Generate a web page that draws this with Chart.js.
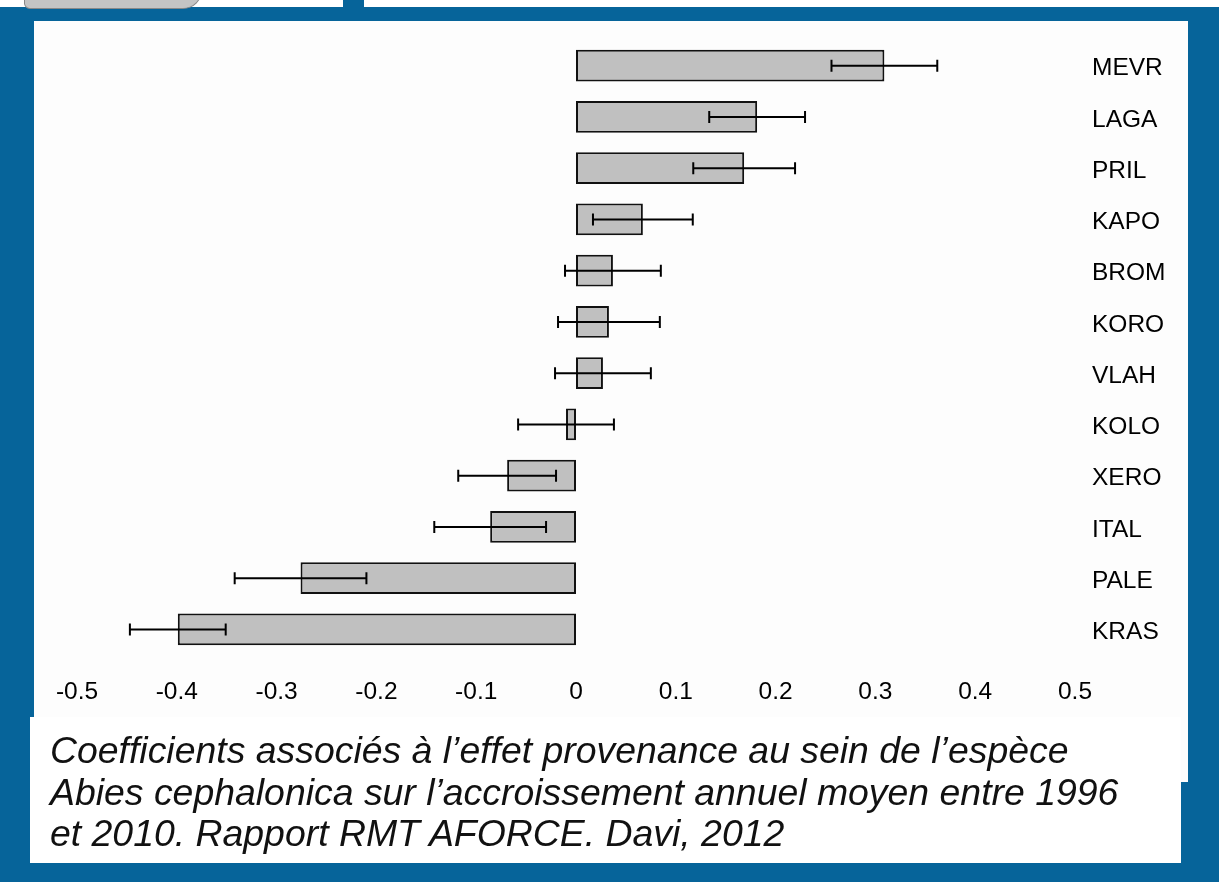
<!DOCTYPE html>
<html>
<head>
<meta charset="utf-8">
<script src="https://cdn.jsdelivr.net/npm/chart.js@4.4.1/dist/chart.umd.min.js"></script>
<style>
  html, body { margin: 0; padding: 0; }
  body { width: 1219px; height: 882px; position: relative; overflow: hidden; background: #ffffff; font-family: "Liberation Sans", Arial, sans-serif; }
  #frame { position: absolute; left: 0; top: 7px; width: 1219px; height: 875px; background: #06649a; }
  #blob { position: absolute; left: 24px; top: -10px; width: 176px; height: 17px; background: #c4c4c4; border: 1px solid #888; border-radius: 0 0 40px 12px; }
  #tab { position: absolute; left: 343px; top: 0; width: 21px; height: 8px; background: #06649a; }
  #panel { position: absolute; left: 34px; top: 21px; width: 1154px; height: 761px; background: #fdfdfd; }
  #capbox { position: absolute; left: 30px; top: 717px; width: 1151px; height: 146px; background: #ffffff; }
  #caption { position: absolute; left: 50px; top: 730px; font-style: italic; font-size: 37.4px; line-height: 41.5px; color: #111; white-space: nowrap; }
  #myChart { position: absolute; left: 0; top: 0; }
</style>
</head>
<body>
<div id="frame"></div>
<div id="blob"></div>
<div id="tab"></div>
<div id="panel"></div>
<div id="capbox"></div>
<canvas id="myChart" width="1219" height="882"></canvas>
<div id="caption">Coefficients associés à l’effet provenance au sein de l’espèce<br>Abies cephalonica sur l’accroissement annuel moyen entre 1996<br>et 2010. Rapport RMT AFORCE. Davi, 2012</div>

<script>
// Provenances (top to bottom)
const provenances = ['MEVR', 'LAGA', 'PRIL', 'KAPO', 'BROM', 'KORO', 'VLAH', 'KOLO', 'XERO', 'ITAL', 'PALE', 'KRAS'];
// Coefficients
const coefs = [0.309, 0.1815, 0.1685, 0.067, 0.037, 0.033, 0.027, -0.010, -0.069, -0.086, -0.276, -0.399];
// Error bar half-widths
const errs = [0.053, 0.048, 0.051, 0.050, 0.048, 0.051, 0.048, 0.048, 0.049, 0.056, 0.066, 0.048];
// X axis ticks
const xTicks = [-0.5, -0.4, -0.3, -0.2, -0.1, 0, 0.1, 0.2, 0.3, 0.4, 0.5];
const xTickLabels = ['-0.5', '-0.4', '-0.3', '-0.2', '-0.1', '0', '0.1', '0.2', '0.3', '0.4', '0.5'];

// draw error bars on top of the bars
const errorBars = {
  id: 'errorBars',
  afterDatasetsDraw(chart) {
    const ctx = chart.ctx;
    const xs = chart.scales.x;
    const meta = chart.getDatasetMeta(0);
    ctx.save();
    ctx.strokeStyle = '#000';
    ctx.lineWidth = 2;
    meta.data.forEach((bar, i) => {
      const y = bar.y;
      const x1 = xs.getPixelForValue(coefs[i] - errs[i]);
      const x2 = xs.getPixelForValue(coefs[i] + errs[i]);
      ctx.beginPath();
      ctx.moveTo(x1, y); ctx.lineTo(x2, y);
      ctx.moveTo(x1, y - 6); ctx.lineTo(x1, y + 6);
      ctx.moveTo(x2, y - 6); ctx.lineTo(x2, y + 6);
      ctx.stroke();
    });
    ctx.restore();
  }
};

const myChart = new Chart(document.getElementById('myChart'), {
  type: 'bar',
  data: {
    labels: provenances,
    datasets: [{
      data: coefs,
      backgroundColor: '#c0c0c0',
      borderColor: '#111',
      borderWidth: 2,
      borderSkipped: false,
      categoryPercentage: 1,
      barPercentage: 0.62
    }]
  },
  options: {
    indexAxis: 'y',
    responsive: false,
    animation: false,
    events: [],
    layout: { padding: { left: 77, top: 40, right: 0, bottom: 0 } },
    plugins: { legend: { display: false }, tooltip: { enabled: false } },
    scales: {
      x: {
        min: -0.5,
        max: 0.5,
        grid: { display: false },
        border: { display: false },
        afterBuildTicks: axis => { axis.ticks = xTicks.map(v => ({ value: v })); },
        afterFit: axis => { axis.height = 227; },
        ticks: {
          autoSkip: false,
          maxRotation: 0,
          padding: 15,
          color: '#000',
          font: { family: '"Liberation Sans", Arial, sans-serif', size: 24.5 },
          callback: (v, i) => xTickLabels[i]
        }
      },
      y: {
        position: 'right',
        grid: { display: false },
        border: { display: false },
        afterFit: axis => { axis.width = 144; },
        ticks: {
          padding: 9,
          labelOffset: 3,
          color: '#000',
          font: { family: '"Liberation Sans", Arial, sans-serif', size: 24.5 }
        }
      }
    }
  },
  plugins: [errorBars]
});
</script>
</body>
</html>
